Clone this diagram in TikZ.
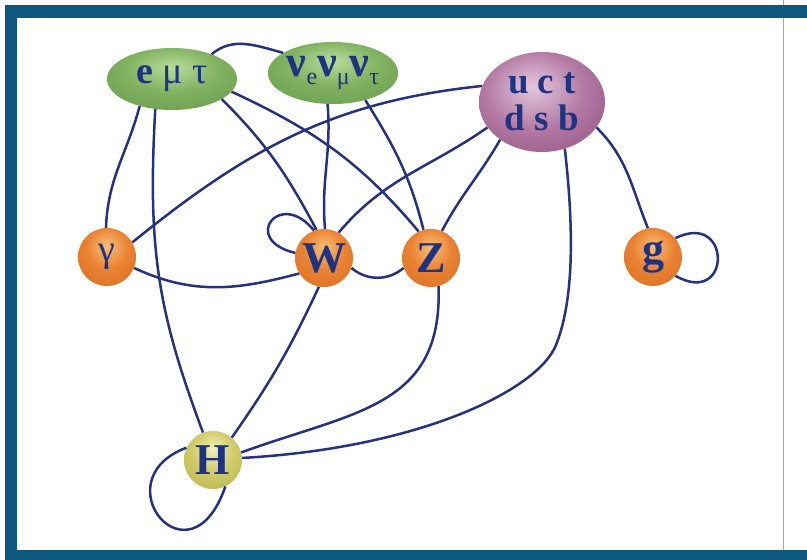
\documentclass[tikz,border=0pt]{standalone}
\usepackage{fontspec}
\setmainfont{Liberation Serif}
\usetikzlibrary{shapes.geometric}

\definecolor{frameblue}{RGB}{14,88,125}
\definecolor{linkblue}{RGB}{38,50,128}
\definecolor{textblue}{RGB}{30,52,130}
% ball colours: light, main, mid, edge
\definecolor{orlight}{RGB}{248,190,120}
\definecolor{ormain}{RGB}{234,130,50}
\definecolor{ormid}{RGB}{214,108,35}
\definecolor{oredge}{RGB}{150,70,22}
\definecolor{grlight}{RGB}{185,220,155}
\definecolor{grmain}{RGB}{128,178,96}
\definecolor{grmid}{RGB}{100,152,72}
\definecolor{gredge}{RGB}{62,108,50}
\definecolor{pulight}{RGB}{228,200,222}
\definecolor{pumain}{RGB}{178,120,162}
\definecolor{pumid}{RGB}{142,75,125}
\definecolor{puedge}{RGB}{88,28,78}
\definecolor{ollight}{RGB}{242,240,185}
\definecolor{olmain}{RGB}{208,204,105}
\definecolor{olmid}{RGB}{180,176,75}
\definecolor{oledge}{RGB}{125,122,38}

% shadings for the particle balls
\pgfdeclareradialshading{orangeball}{\pgfpoint{0bp}{10bp}}{%
  color(0bp)=(orlight); color(18bp)=(ormain); color(42bp)=(ormid);
  color(60bp)=(oredge); color(75bp)=(oredge)}
\pgfdeclareradialshading{greenball}{\pgfpoint{0bp}{10bp}}{%
  color(0bp)=(grlight); color(18bp)=(grmain); color(42bp)=(grmid);
  color(60bp)=(gredge); color(75bp)=(gredge)}
\pgfdeclareradialshading{purpleball}{\pgfpoint{-4bp}{8bp}}{%
  color(0bp)=(pulight); color(20bp)=(pumain); color(42bp)=(pumid);
  color(60bp)=(puedge); color(75bp)=(puedge)}
\pgfdeclareradialshading{oliveball}{\pgfpoint{0bp}{10bp}}{%
  color(0bp)=(ollight); color(18bp)=(olmain); color(42bp)=(olmid);
  color(60bp)=(oledge); color(75bp)=(oledge)}

\newcommand{\nusub}[1]{\raisebox{-8pt}{\mdseries\fontsize{24}{24}\selectfont #1}}

\tikzset{
  lepton/.style={ellipse, shading=greenball, minimum width=130pt, minimum height=62pt,
    inner sep=0pt, text=textblue, font=\bfseries\fontsize{38}{38}\selectfont},
  quark/.style={ellipse, shading=purpleball, minimum width=126pt, minimum height=100pt,
    inner sep=0pt, align=center, text=textblue, font=\bfseries\fontsize{37}{37}\selectfont},
  boson/.style={circle, shading=orangeball, minimum size=58pt, inner sep=0pt,
    text=textblue, font=\bfseries\fontsize{44}{44}\selectfont},
  higgs/.style={boson, shading=oliveball},
  link/.style={draw=linkblue, line width=2.5pt}
}

\begin{document}
\begin{tikzpicture}[x=1pt,y=1pt]
    \useasboundingbox (0,0) rectangle (807,560);
    % Frame
    \fill[frameblue] (5,0) rectangle (807,555);
    \fill[white] (17,10) rectangle (807,542);
    \draw[gray!70, line width=1pt] (783,10) -- (783,542);
    \draw[gray!70, line width=1pt] (783,555) -- (783,560);

    % Particles
    \node[lepton] (lep) at (172,481) {e {\mdseries μ τ}};
    \node[lepton] (neu) at (333,487) {\fontsize{44}{44}\selectfont ν\nusub{e}ν\nusub{μ}ν\nusub{τ}};
    \node[quark] (qrk) at (542,458) {u c t\\d s b};
    \node[boson] (gam) at (107,303) {\mdseries\fontsize{38}{38}\selectfont γ};
    \node[boson] (W) at (324,302) {W};
    \node[boson] (Z) at (431,302) {Z};
    \node[boson] (glu) at (653,303) {g};
    \node[higgs] (H) at (213,100) {H};

    % Lepton couplings
    \draw[link] (lep.32) to[out=40,in=165] (neu.158);
    \draw[link] (lep.-140) to[out=-105,in=88] (gam.92);
    \draw[link] (lep.-119) .. controls +(-8,-140) and +(-45,120) .. (H.110);
    \draw[link] (lep.-22) to[out=-45,in=118] (W.105);
    \draw[link] (lep.-12) to[out=-25,in=130] (Z.115);
    \draw[link] (neu.-100) to[out=-85,in=95] (W.88);
    \draw[link] (neu.-40) to[out=-58,in=104] (Z.105);

    % Quark couplings
    \draw[link] (qrk.165) to[out=186,in=39] (gam.30);
    \draw[link] (qrk.205) to[out=-145,in=50] (W.60);
    \draw[link] (qrk.222) to[out=-120,in=62] (Z.68);
    \draw[link] (qrk.-25) to[out=-45,in=112] (glu.100);
    \draw[link] (qrk.-64) .. controls (574,330) and (574,260) .. (556,215)
        .. controls (538,170) and (420,112) .. (H.4);

    % Boson couplings
    \draw[link] (gam.-22) to[out=-25,in=-165] (W.212);
    \draw[link] (W.-20) to[out=-40,in=-140] (Z.200);
    \draw[link] (W.-100) to[out=-115,in=55] (H.50);
    \draw[link] (Z.-75) to[out=-88,in=20,looseness=1.2] (H.15);

    % Self couplings
    \draw[link] (W.110) .. controls (280,372) and (240,320) .. (W.170);
    \draw[link] (glu.40) .. controls (732,350) and (732,252) .. (glu.-40);
    \draw[link] (H.155) .. controls (100,80) and (190,-30) .. (H.-65);
\end{tikzpicture}
\end{document}
